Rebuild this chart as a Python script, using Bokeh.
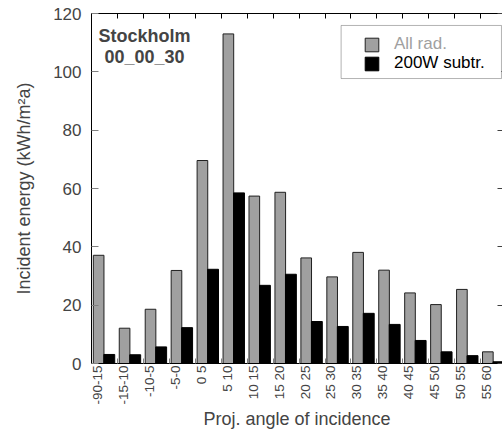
import math
import numpy as np
from bokeh.plotting import figure
from bokeh.models import (ColumnDataSource, FixedTicker, LinearAxis, Range1d,
                          Legend, LegendItem, Label, BoxAnnotation)
from bokeh.embed import file_html
from bokeh.resources import INLINE

# ---- data ----
categories = ["-90-15", "-15-10", "-10-5", "-5-0", "0 5", "5 10", "10 15", "15 20",
              "20 25", "25 30", "30 35", "35 40", "40 45", "45 50", "50 55", "55 60"]
all_rad = [37.1, 12.1, 18.6, 31.9, 69.6, 113.0, 57.4, 58.7,
           36.2, 29.7, 38.1, 32.0, 24.2, 20.2, 25.4, 4.0]
subtr_200w = [3.1, 3.0, 5.7, 12.3, 32.3, 58.5, 26.8, 30.6,
              14.4, 12.7, 17.2, 13.4, 7.9, 4.0, 2.7, 0.6]
y_ticks = [0, 20, 40, 60, 80, 100, 120]
series_names = ["All rad.", "200W subtr."]
title_lines = ["Stockholm", "00_00_30"]

FONT = "Liberation Sans"
GRAY = "#a0a0a0"

n = len(categories)
idx = np.arange(n)
src = ColumnDataSource(dict(cat=categories, all_rad=all_rad, subtr=subtr_200w,
                            xg=(idx + 0.275).tolist(), xb=(idx + 0.685).tolist()))

p = figure(width=502, height=432, output_backend="svg", toolbar_location=None,
           x_range=Range1d(0, 15.84), y_range=Range1d(0, 120),
           min_border_left=91, min_border_right=0, min_border_top=13, min_border_bottom=69)
p.grid.visible = False
p.outline_line_color = None
p.background_fill_color = "white"
p.border_fill_color = "white"

r_all = p.vbar(x="xg", top="all_rad", width=0.41, source=src,
               fill_color=GRAY, line_color="#202020", line_width=1)
r_sub = p.vbar(x="xb", top="subtr", width=0.42, source=src,
               fill_color="black", line_color="black", line_width=1)

# bottom axis
label_pos = [float(v) for v in (idx + 0.23)]
xa = p.xaxis[0]
xa.ticker = FixedTicker(ticks=label_pos, minor_ticks=list(range(1, n)))
xa.major_label_overrides = {v: c for v, c in zip(label_pos, categories)}
xa.major_label_orientation = math.pi / 2
xa.major_tick_in = 0
xa.major_tick_out = 0
xa.minor_tick_in = 5
xa.minor_tick_out = 0
xa.minor_tick_line_color = "#808080"
xa.axis_line_color = "black"
xa.major_label_text_font = FONT
xa.major_label_text_font_size = "13.5px"
xa.major_label_standoff = 2
xa.axis_label = "Proj. angle of incidence"
xa.axis_label_text_font = FONT
xa.axis_label_text_font_size = "18px"
xa.axis_label_text_font_style = "normal"
xa.axis_label_standoff = 1

# left axis
ya = p.yaxis[0]
ya.ticker = FixedTicker(ticks=y_ticks)
ya.major_tick_in = 7
ya.major_tick_out = 0
ya.major_tick_line_color = "#808080"
ya.minor_tick_line_color = None
ya.axis_line_color = "black"
ya.major_label_text_font = FONT
ya.major_label_text_font_size = "17px"
ya.major_label_standoff = 10
ya.axis_label = "Incident energy (kWh/m²a)"
ya.axis_label_text_font = FONT
ya.axis_label_text_font_size = "18px"
ya.axis_label_text_font_style = "normal"
ya.axis_label_standoff = 16

# top axis (ticks only)
top_ax = LinearAxis(ticker=FixedTicker(ticks=list(range(0, n + 1))),
                    major_tick_in=5, major_tick_out=0, major_tick_line_color="black",
                    minor_tick_line_color=None, axis_line_color="black",
                    major_label_text_font_size="0px", major_label_standoff=0)
p.add_layout(top_ax, "above")

# right axis (ticks only)
right_ax = LinearAxis(ticker=FixedTicker(ticks=y_ticks),
                      major_tick_in=5, major_tick_out=0, major_tick_line_color="#404040",
                      minor_tick_line_color=None, axis_line_color=None,
                      major_label_text_font_size="0px", major_label_standoff=0)
p.add_layout(right_ax, "right")

# legend box
box = BoxAnnotation(left=9.62, right=15.80, top=115.9, bottom=97.7,
                    fill_color="white", fill_alpha=1.0, line_color="black", line_width=1)
p.add_layout(box)

common = dict(padding=0, margin=0, spacing=0, border_line_color=None,
              background_fill_alpha=0, glyph_width=17, glyph_height=17,
              label_height=17, label_standoff=14, label_text_font=FONT,
              label_text_font_size="17px")
leg1 = Legend(items=[LegendItem(label=series_names[0], renderers=[r_all])],
              location=(272, 309), label_text_color=GRAY, **common)
leg2 = Legend(items=[LegendItem(label=series_names[1], renderers=[r_sub])],
              location=(272, 290), label_text_color="black", **common)
p.add_layout(leg1)
p.add_layout(leg2)

# title label
p.add_layout(Label(x=2.04, y=112.3, text=title_lines[0], text_align="center",
                   text_baseline="alphabetic", text_font=FONT, text_font_size="18px",
                   text_font_style="bold"))
p.add_layout(Label(x=2.04, y=105.0, text=title_lines[1], text_align="center",
                   text_baseline="alphabetic", text_font=FONT, text_font_size="18px",
                   text_font_style="bold"))

open("out.html", "w").write(file_html(p, INLINE))
